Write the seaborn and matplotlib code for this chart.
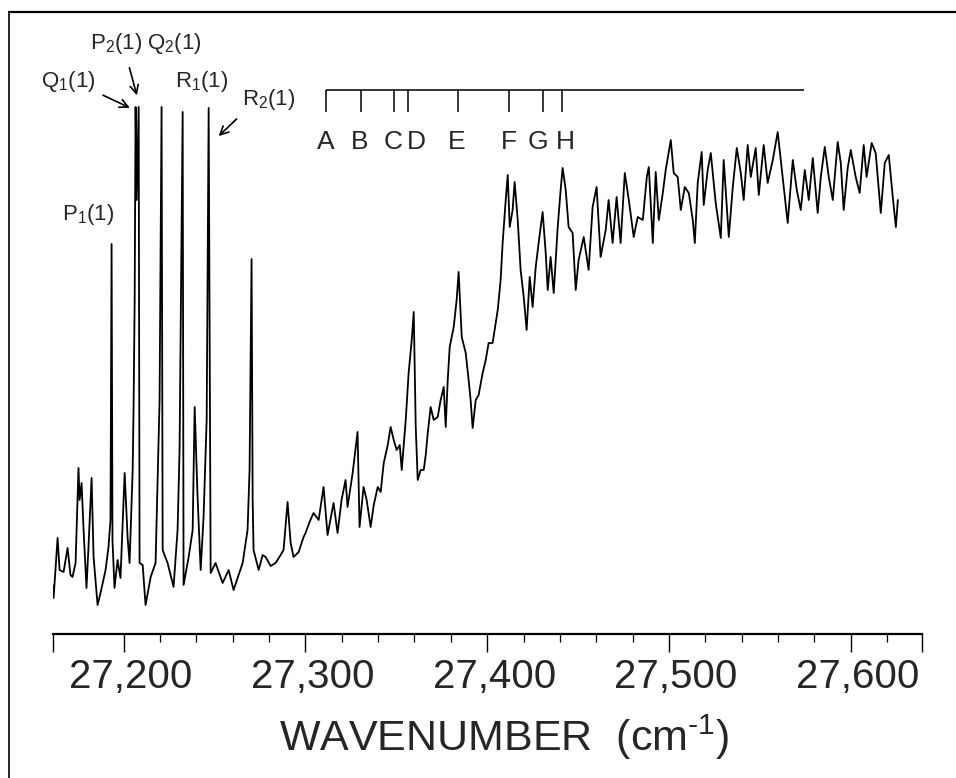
import numpy as np
import pandas as pd
import matplotlib
matplotlib.use('Agg')
import matplotlib.pyplot as plt
import seaborn as sns
from matplotlib.lines import Line2D
from matplotlib.transforms import ScaledTranslation

# spectrum: wavenumber (cm-1) and intensity (arb. units)
wavenumber = [
    27160.9, 27161.5, 27163.7, 27164.8, 27167.0, 27169.2, 27170.8, 27171.9, 27173.6, 27175.2,
    27175.8, 27176.9, 27178.0, 27179.6, 27180.7, 27182.4, 27183.5, 27185.7, 27187.3, 27190.1,
    27191.7, 27192.8, 27193.4, 27193.9, 27195.0, 27196.7, 27198.3, 27200.6, 27202.2, 27203.3,
    27205.0, 27205.5, 27206.1, 27206.6, 27207.2, 27208.3, 27208.8, 27210.5, 27212.1, 27214.9,
    27217.6, 27218.7, 27219.8, 27220.9, 27221.5, 27224.2, 27227.5, 27229.7, 27230.8, 27232.5,
    27233.0, 27235.8, 27238.0, 27239.1, 27240.7, 27242.4, 27244.0, 27245.7, 27246.8, 27247.9,
    27250.6, 27254.5, 27257.8, 27260.5, 27263.3, 27265.5, 27268.2, 27269.3, 27270.4, 27271.0,
    27271.5, 27274.3, 27276.5, 27278.1, 27280.9, 27283.6, 27286.4, 27288.0, 27290.2, 27291.9,
    27293.5, 27296.3, 27299.0, 27300.1, 27302.3, 27304.5, 27307.3, 27310.0, 27312.2, 27315.5,
    27317.7, 27319.9, 27322.1, 27323.2, 27326.0, 27328.7, 27329.8, 27332.0, 27333.7, 27335.9,
    27337.6, 27339.8, 27341.4, 27343.1, 27345.3, 27346.9, 27348.6, 27350.2, 27351.9, 27353.0,
    27355.2, 27356.8, 27358.5, 27359.6, 27360.7, 27361.8, 27363.4, 27365.1, 27366.2, 27367.3,
    27368.9, 27370.6, 27372.8, 27374.4, 27376.1, 27377.2, 27378.3, 27379.4, 27381.6, 27383.2,
    27384.3, 27386.0, 27388.2, 27389.8, 27390.9, 27392.0, 27393.7, 27395.3, 27397.5, 27399.2,
    27400.8, 27403.0, 27404.1, 27405.8, 27407.4, 27408.5, 27410.2, 27411.3, 27412.4, 27414.0,
    27415.1, 27416.8, 27418.4, 27420.1, 27421.7, 27423.4, 27425.0, 27426.7, 27428.3, 27430.5,
    27432.2, 27433.3, 27434.9, 27436.6, 27438.8, 27440.4, 27441.5, 27443.2, 27444.8, 27447.0,
    27448.7, 27450.3, 27453.1, 27455.8, 27458.0, 27460.2, 27462.4, 27465.2, 27466.8, 27469.0,
    27471.2, 27473.4, 27475.7, 27477.9, 27480.6, 27482.8, 27485.6, 27487.8, 27488.9, 27491.1,
    27492.7, 27494.4, 27496.6, 27498.2, 27501.0, 27502.6, 27504.8, 27506.5, 27508.7, 27510.9,
    27513.1, 27514.2, 27515.8, 27518.0, 27519.1, 27521.3, 27523.0, 27525.7, 27528.5, 27530.1,
    27532.9, 27535.1, 27537.3, 27539.5, 27541.1, 27543.3, 27545.0, 27547.7, 27549.4, 27552.1,
    27554.3, 27557.1, 27559.8, 27561.5, 27563.1, 27565.3, 27568.1, 27570.3, 27572.5, 27574.7,
    27576.9, 27579.1, 27581.8, 27583.5, 27585.7, 27587.9, 27590.1, 27592.8, 27594.5, 27596.1,
    27598.3, 27600.0, 27602.7, 27604.9, 27607.1, 27608.7, 27611.5, 27613.7, 27616.5, 27618.7,
    27620.9, 27623.1, 27624.8, 27625.9,
]
intensity = [
    3.0, 0.4, 12.4, 6.0, 5.6, 10.4, 5.0, 4.6, 7.4, 26.4,
    20.0, 23.4, 14.0, 2.4, 10.6, 24.4, 8.6, -1.0, 1.4, 6.0,
    10.6, 16.0, 71.2, 12.0, 2.4, 8.0, 4.4, 25.4, 12.6, 7.4,
    26.0, 38.6, 60.0, 98.6, 80.0, 98.6, 7.4, 7.0, -1.0, 4.6,
    7.4, 23.4, 40.0, 98.6, 10.0, 7.4, 2.6, 14.0, 30.0, 97.6,
    3.0, 8.6, 14.0, 38.6, 20.6, 6.0, 16.6, 36.0, 98.4, 5.4,
    7.4, 3.4, 6.0, 2.0, 5.0, 7.4, 14.0, 26.0, 68.2, 20.0,
    10.0, 6.0, 9.0, 8.6, 6.8, 7.4, 9.0, 10.0, 19.6, 11.4,
    8.6, 9.6, 12.6, 13.4, 15.6, 17.4, 16.0, 22.6, 13.0, 19.4,
    13.4, 20.0, 24.0, 18.6, 25.4, 33.6, 14.6, 22.6, 20.0, 14.6,
    19.0, 22.6, 21.6, 27.4, 31.0, 34.6, 32.0, 30.0, 31.0, 26.0,
    36.0, 45.4, 52.0, 57.6, 34.6, 24.0, 26.0, 26.0, 29.0, 33.4,
    38.6, 36.0, 36.6, 40.0, 42.6, 34.6, 44.0, 50.6, 54.6, 60.0,
    65.6, 52.6, 49.4, 44.0, 40.0, 34.4, 40.0, 41.0, 45.4, 48.0,
    51.4, 51.4, 54.0, 58.0, 64.0, 71.4, 80.0, 85.0, 74.6, 78.0,
    83.6, 76.0, 66.0, 60.6, 54.0, 64.6, 58.6, 66.6, 71.4, 77.6,
    69.4, 62.0, 68.6, 61.4, 74.6, 82.0, 86.4, 82.0, 74.6, 73.4,
    62.0, 68.0, 72.6, 66.0, 78.6, 82.6, 68.6, 74.0, 80.0, 71.4,
    80.6, 71.4, 85.4, 80.0, 72.6, 76.6, 76.0, 84.6, 86.6, 71.4,
    85.6, 76.0, 81.4, 86.0, 92.0, 85.4, 84.6, 78.0, 82.6, 81.4,
    76.0, 71.4, 83.4, 89.6, 79.0, 86.0, 89.4, 79.4, 72.4, 88.0,
    72.6, 82.6, 90.4, 85.4, 80.0, 91.0, 84.6, 90.4, 81.0, 91.0,
    83.4, 88.0, 93.6, 88.0, 82.6, 75.4, 88.0, 82.0, 78.0, 86.0,
    80.0, 88.4, 77.4, 84.6, 90.6, 84.6, 80.0, 91.6, 87.4, 78.0,
    86.4, 90.0, 84.6, 81.4, 91.0, 84.6, 91.4, 89.4, 77.4, 87.4,
    89.0, 80.6, 74.6, 80.0,
]

# band markers A-H (cm-1)
band_letters = ['A', 'B', 'C', 'D', 'E', 'F', 'G', 'H']
band_positions = [27311.1, 27330.4, 27348.6, 27356.3, 27383.8, 27411.8, 27430.5, 27441.0]
band_bar_end = 27574.0

# axis ticks
tick_values = [27200, 27300, 27400, 27500, 27600]
tick_labels = ['27,200', '27,300', '27,400', '27,500', '27,600']
x_min, x_max = 27161, 27639

df = pd.DataFrame({'wavenumber': wavenumber, 'intensity': intensity})

sns.set_theme(style='white')
plt.rcParams['font.family'] = ['Liberation Sans', 'DejaVu Sans']
plt.rcParams['mathtext.default'] = 'regular'

fig = plt.figure(figsize=(9.56, 7.78), dpi=100)
ax = fig.add_axes([0.0551, 0.1851, 0.909, 0.7982])

sns.lineplot(data=df, x='wavenumber', y='intensity', ax=ax, color='black',
             linewidth=1.3, estimator=None, sort=False)

ax.set_xlim(x_min, x_max)
ax.set_ylim(-6.8, 117.4)
for side in ['left', 'top', 'right']:
    ax.spines[side].set_visible(False)
ax.spines['bottom'].set_linewidth(1.6)
ax.spines['bottom'].set_color('black')
ax.set_yticks([])
ax.set_ylabel('')

ax.set_xticks([x_min] + tick_values + [x_max])
ax.set_xticklabels([''] + tick_labels + [''])
ax.set_xticks(np.arange(27220, 27640, 20), minor=True)
ax.tick_params(axis='x', which='major', direction='out', length=13, width=1.0,
               color='black', labelsize=29, pad=4, bottom=True)
ax.tick_params(axis='x', which='minor', direction='out', length=6, width=0.9,
               color='black', bottom=True)
for lbl in ax.get_xticklabels():
    lbl.set_transform(lbl.get_transform() + ScaledTranslation(0.07, 0, fig.dpi_scale_trans))
ax.set_xlabel('')

fig.text(0.527, 0.052, 'WAVENUMBER  (cm$^{\u2010 1}$)', fontsize=31,
         ha='center', va='center')

# band marker bar
ax.hlines(102, band_positions[0], band_bar_end, color='black', linewidth=1.1)
ax.vlines(band_positions, 97.6, 102, color='black', linewidth=1.1)
letter_x = [27311, 27330, 27348, 27361, 27383, 27412, 27428, 27443]
for lx, letter in zip(letter_x, band_letters):
    ax.text(lx, 91.6, letter, fontsize=19, ha='center', va='center')

# rotational line labels
lab_fs = 16
ax.text(27180.2, 77, 'P$_1$(1)', fontsize=lab_fs, ha='center', va='center')
ax.text(27169.7, 103.6, 'Q$_1$(1)', fontsize=lab_fs, ha='center', va='center')
ax.text(27195.6, 111.2, 'P$_2$(1)', fontsize=lab_fs, ha='center', va='center')
ax.text(27228.1, 111.2, 'Q$_2$(1)', fontsize=lab_fs, ha='center', va='center')
ax.text(27242.9, 103.6, 'R$_1$(1)', fontsize=lab_fs, ha='center', va='center')
ax.text(27279.8, 100.0, 'R$_2$(1)', fontsize=lab_fs, ha='center', va='center')

arrow_kw = dict(arrowstyle='->', color='black', lw=1.2, mutation_scale=15)
ax.annotate('', xy=(27204.8, 98.2), xytext=(27187.3, 101.2), arrowprops=arrow_kw)
ax.annotate('', xy=(27207.7, 100.4), xytext=(27202.8, 107.0), arrowprops=arrow_kw)
ax.annotate('', xy=(27251.2, 92.4), xytext=(27263.3, 96.6), arrowprops=arrow_kw)

# frame on top and left edges
fig.add_artist(Line2D([9 / 956, 1.0], [1 - 12 / 778] * 2, transform=fig.transFigure,
                      color='black', linewidth=1.6))
fig.add_artist(Line2D([9 / 956] * 2, [0.0, 1 - 12 / 778], transform=fig.transFigure,
                      color='black', linewidth=1.2))

fig.savefig('out.png', dpi=100)
